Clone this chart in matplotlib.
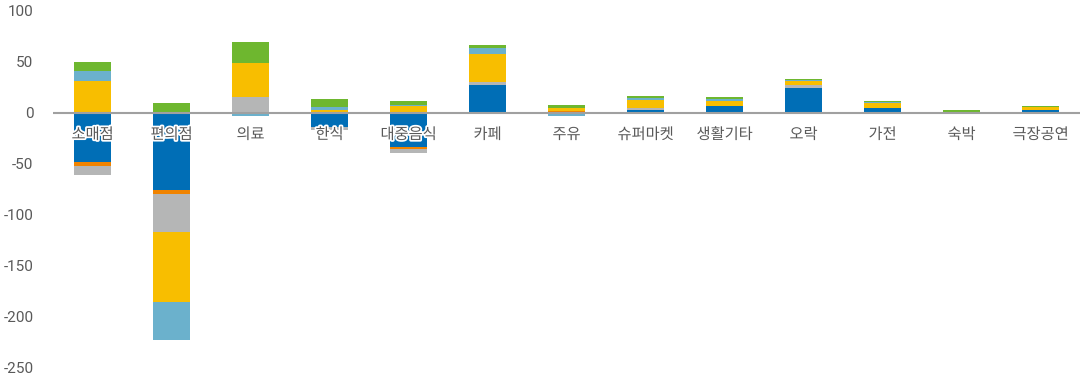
import matplotlib
matplotlib.use("Agg")
import matplotlib.pyplot as plt
import matplotlib.patheffects as pe
import numpy as np

categories = ["소매점", "편의점", "의료", "한식", "대중음식", "카페", "주유",
              "슈퍼마켓", "생활기타", "오락", "가전", "숙박", "극장공연"]

blue      = [-49, -76, -1, -14, -34, 27, 0, 2, 6.2, 24.5, 4.2, 0, 2]
orange    = [-3, -4, 0, -0.5, -1.3, 0, 1.3, 0, 0, 0, 0.6, 0, 0]
gray      = [-9.5, -37, 15, -3, -4.5, 3.3, 0, 2.3, 0, 2.6, 0, 0, 0]
yellow    = [31, -68.5, 33.5, 2.5, 6, 27, 3.6, 8.2, 4.9, 4.2, 4.2, 0, 3.6]
lightblue = [9.5, -37.5, -2, 3, 1.6, 6.2, -3, 1.6, 2, 1, 1, 0, 0]
green     = [9, 9.5, 20.5, 7.5, 3.3, 2.6, 2.9, 2, 2.3, 1, 1, 2.3, 1]

yticks = [100, 50, 0, -50, -100, -150, -200, -250]

series = [blue, orange, gray, yellow, lightblue, green]
colors = ["#006EB6", "#F08300", "#B5B6B6", "#F8BE00", "#6BB1CC", "#6EB72F"]

fig = plt.figure(figsize=(10.85, 3.82), dpi=100)
ax = fig.add_axes([53 / 1085, 14.5 / 382, (1080 - 53) / 1085, 357 / 382])

x = np.arange(len(categories))
pos_base = np.zeros(len(categories))
neg_base = np.zeros(len(categories))
for vals, c in zip(series, colors):
    v = np.array(vals, dtype=float)
    p = np.where(v > 0, v, 0)
    n = np.where(v < 0, v, 0)
    ax.bar(x, p, bottom=pos_base, width=0.48, color=c, linewidth=0, zorder=2)
    ax.bar(x, n, bottom=neg_base, width=0.48, color=c, linewidth=0, zorder=2)
    pos_base += p
    neg_base += n

ax.axhline(0, color="#A0A0A0", linewidth=1.5, zorder=3)

for xi, name in zip(x, categories):
    ax.text(xi, -21.5, name, ha="center", va="center", fontsize=11,
            color="#595959", family=["Noto Sans CJK KR", "DejaVu Sans"], zorder=5,
            path_effects=[pe.withStroke(linewidth=2.5, foreground="white")])

ax.set_xlim(-0.5, len(categories) - 0.5)
ax.set_ylim(-250, 100)
ax.set_yticks(yticks)
ax.set_yticklabels([str(t) for t in yticks], fontsize=11, color="#595959",
                   family=["Roboto", "DejaVu Sans"])
ax.tick_params(axis="y", length=0, pad=14)
ax.set_xticks([])
for s in ax.spines.values():
    s.set_visible(False)

fig.savefig("out.png", dpi=100)
